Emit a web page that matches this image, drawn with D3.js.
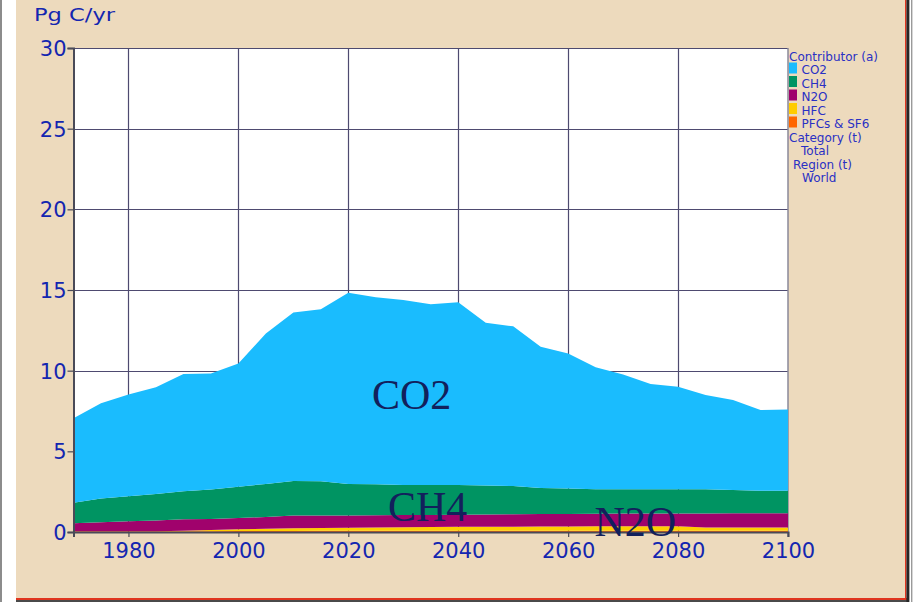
<!DOCTYPE html>
<html>
<head>
<meta charset="utf-8">
<script src="https://cdn.jsdelivr.net/npm/d3@7/dist/d3.min.js"></script>
<style>
  html, body { margin: 0; padding: 0; background: #ffffff; }
  svg { display: block; }
</style>
</head>
<body>
<svg id="chart" width="914" height="602"></svg>
<script>
// Global greenhouse-gas emissions by contributor, Pg C equivalent per year
const years = [1970, 1975, 1980, 1985, 1990, 1995, 2000, 2005, 2010, 2015, 2020, 2025, 2030, 2035,
               2040, 2045, 2050, 2055, 2060, 2065, 2070, 2075, 2080, 2085, 2090, 2095, 2100];

const co2 = [5.23, 5.91, 6.32, 6.61, 7.27, 7.19, 7.64, 9.32, 10.44, 10.66, 11.85, 11.59, 11.47, 11.20,
             11.33, 10.08, 9.90, 8.76, 8.38, 7.56, 7.12, 6.52, 6.36, 5.84, 5.58, 5.00, 5.04];
const ch4 = [1.28, 1.47, 1.55, 1.64, 1.73, 1.83, 1.94, 2.05, 2.13, 2.11, 1.95, 1.92, 1.86, 1.85,
             1.84, 1.80, 1.75, 1.62, 1.57, 1.52, 1.51, 1.51, 1.50, 1.50, 1.44, 1.40, 1.40];
const n2o = [0.50, 0.56, 0.61, 0.67, 0.72, 0.69, 0.70, 0.73, 0.80, 0.78, 0.76, 0.76, 0.75, 0.75,
             0.75, 0.76, 0.77, 0.77, 0.78, 0.78, 0.79, 0.79, 0.80, 0.87, 0.88, 0.88, 0.88];
const hfc = [0.00, 0.00, 0.01, 0.01, 0.02, 0.07, 0.11, 0.14, 0.17, 0.18, 0.20, 0.21, 0.23, 0.23,
             0.24, 0.25, 0.25, 0.26, 0.26, 0.27, 0.27, 0.27, 0.27, 0.20, 0.20, 0.20, 0.20];
const pfc = [0.04, 0.04, 0.04, 0.04, 0.05, 0.05, 0.06, 0.06, 0.06, 0.07, 0.07, 0.07, 0.07, 0.08,
             0.08, 0.08, 0.08, 0.08, 0.08, 0.08, 0.08, 0.08, 0.08, 0.08, 0.08, 0.08, 0.08];

const contributors = ["CO2", "CH4", "N2O", "HFC", "PFCs & SF6"];
const colors = ["#1abcfe", "#009462", "#a0026c", "#ffcc00", "#ff6600"];
const seriesValues = [co2, ch4, n2o, hfc, pfc];

const yTicks = [0, 5, 10, 15, 20, 25, 30];
const xTicks = [1980, 2000, 2020, 2040, 2060, 2080, 2100];
const xGrid = [1980, 2000, 2020, 2040, 2060, 2080];
const legendExtra = [
  { text: "Category (t)", indent: 0 },
  { text: "Total", indent: 12 },
  { text: "Region (t)", indent: 4 },
  { text: "World", indent: 13 }
];
const areaLabels = [
  { text: "CO2", year: 2024.3, value: 7.6 },
  { text: "CH4", year: 2027.2, value: 0.68 },
  { text: "N2O", year: 2064.8, value: -0.25 }
];

// rows for the stack, one per year
const table = years.map((yr, i) => {
  const row = { year: yr };
  contributors.forEach((c, k) => { row[c] = seriesValues[k][i]; });
  return row;
});

const svg = d3.select("#chart");
const W = 914, H = 602;
const plot = { left: 73.5, right: 788, top: 48, bottom: 532 };

const textBlue = "#1426b0";
const legendBlue = "#2a30c4";

// window frame
svg.append("rect").attr("x", 0).attr("y", 0).attr("width", W).attr("height", H).attr("fill", "#ffffff");
svg.append("rect").attr("x", 0).attr("y", 0).attr("width", 2).attr("height", H).attr("fill", "#8c8c8c");
svg.append("rect").attr("x", 16).attr("y", 0).attr("width", 890).attr("height", 598).attr("fill", "#eddabd");
svg.append("rect").attr("x", 16).attr("y", 598).attr("width", 891).attr("height", 2).attr("fill", "#e0341e");
svg.append("rect").attr("x", 16).attr("y", 600).attr("width", 891).attr("height", 2).attr("fill", "#4a4a4a");
svg.append("rect").attr("x", 905).attr("y", 0).attr("width", 1.4).attr("height", 600).attr("fill", "#e0341e");
svg.append("rect").attr("x", 906.4).attr("y", 0).attr("width", 3).attr("height", 602).attr("fill", "#262626");
svg.append("rect").attr("x", 911).attr("y", 0).attr("width", 1.4).attr("height", 602).attr("fill", "#9a9a9a");

const x = d3.scaleLinear().domain([1970, 2100]).range([plot.left, plot.right]);
const y = d3.scaleLinear().domain([0, 30]).range([plot.bottom, plot.top]);

// plot background
svg.append("rect")
  .attr("x", plot.left).attr("y", plot.top)
  .attr("width", plot.right - plot.left).attr("height", plot.bottom - plot.top)
  .attr("fill", "#ffffff");

// grid
const grid = svg.append("g").attr("stroke", "#4e4a70").attr("stroke-width", 1.2);
grid.selectAll("line.h").data(yTicks.filter(v => v > 0)).join("line")
  .attr("x1", plot.left).attr("x2", plot.right)
  .attr("y1", d => Math.round(y(d)) + 0.5).attr("y2", d => Math.round(y(d)) + 0.5);
grid.selectAll("line.v").data(xGrid).join("line")
  .attr("y1", plot.top).attr("y2", plot.bottom)
  .attr("x1", d => Math.round(x(d)) + 0.5).attr("x2", d => Math.round(x(d)) + 0.5);
svg.append("line")
  .attr("x1", plot.right).attr("x2", plot.right)
  .attr("y1", plot.top).attr("y2", plot.bottom + 5)
  .attr("stroke", "#8a889a").attr("stroke-width", 1.5);

// stacked areas, bottom to top: PFCs & SF6, HFC, N2O, CH4, CO2
const stackKeys = contributors.slice().reverse();
const stacked = d3.stack().keys(stackKeys).order(d3.stackOrderNone).offset(d3.stackOffsetNone)(table);
const area = d3.area()
  .x(d => x(d.data.year))
  .y0(d => y(d[0]))
  .y1(d => y(d[1]))
  .curve(d3.curveLinear);

svg.append("g").selectAll("path").data(stacked).join("path")
  .attr("d", area)
  .attr("fill", d => colors[contributors.indexOf(d.key)]);

// axes
const yAxis = d3.axisLeft(y).tickValues(yTicks).tickSize(6).tickPadding(2);
const gy = svg.append("g").attr("transform", `translate(${plot.left},0)`).call(yAxis);
gy.select(".domain").attr("stroke", "#4a4a58").attr("stroke-width", 2);
gy.selectAll(".tick line").attr("stroke", "#4a4a58").attr("stroke-width", 1.2);
gy.selectAll(".tick text")
  .attr("fill", textBlue).attr("font-family", "'DejaVu Sans', Verdana, sans-serif")
  .attr("font-size", 21).attr("dy", "0.36em").attr("x", -7);

const xAxis = d3.axisBottom(x).tickValues(xTicks).tickFormat(d3.format("d")).tickSize(5).tickPadding(6);
const gx = svg.append("g").attr("transform", `translate(0,${plot.bottom})`).call(xAxis);
gx.select(".domain").attr("stroke", "#4a4a58").attr("stroke-width", 2);
gx.selectAll(".tick line").attr("stroke", "#4a4a58").attr("stroke-width", 1.2);
gx.selectAll(".tick text")
  .attr("fill", textBlue).attr("font-family", "'DejaVu Sans', Verdana, sans-serif")
  .attr("font-size", 21).attr("dy", "0.71em").attr("y", 11);

// unit title
svg.append("text")
  .attr("x", 34).attr("y", 21)
  .attr("fill", textBlue)
  .attr("font-family", "'DejaVu Sans', Verdana, sans-serif")
  .attr("font-size", 18)
  .attr("textLength", 81).attr("lengthAdjust", "spacingAndGlyphs")
  .text("Pg C/yr");

// labels written over the areas
svg.append("g").selectAll("text").data(areaLabels).join("text")
  .attr("x", d => x(d.year)).attr("y", d => y(d.value))
  .attr("fill", "#12205c")
  .attr("font-family", "'Liberation Serif', 'Times New Roman', serif")
  .attr("font-size", 42)
  .text(d => d.text);

// legend
const lg = svg.append("g").attr("font-family", "'DejaVu Sans', Verdana, sans-serif").attr("font-size", 12).attr("fill", legendBlue);
const rowH = 13.5, lx = 789, ly0 = 60.5;
lg.append("text").attr("x", lx).attr("y", ly0).text("Contributor (a)");
contributors.forEach((c, i) => {
  const by = ly0 + (i + 1) * rowH;
  lg.append("rect").attr("x", lx).attr("y", by - 11.5).attr("width", 8).attr("height", 11).attr("fill", colors[i]);
  lg.append("text").attr("x", lx + 12.5).attr("y", by).text(c);
});
legendExtra.forEach((e, j) => {
  const by = ly0 + (contributors.length + 1 + j) * rowH;
  lg.append("text").attr("x", lx + e.indent).attr("y", by).text(e.text);
});
</script>
</body>
</html>
